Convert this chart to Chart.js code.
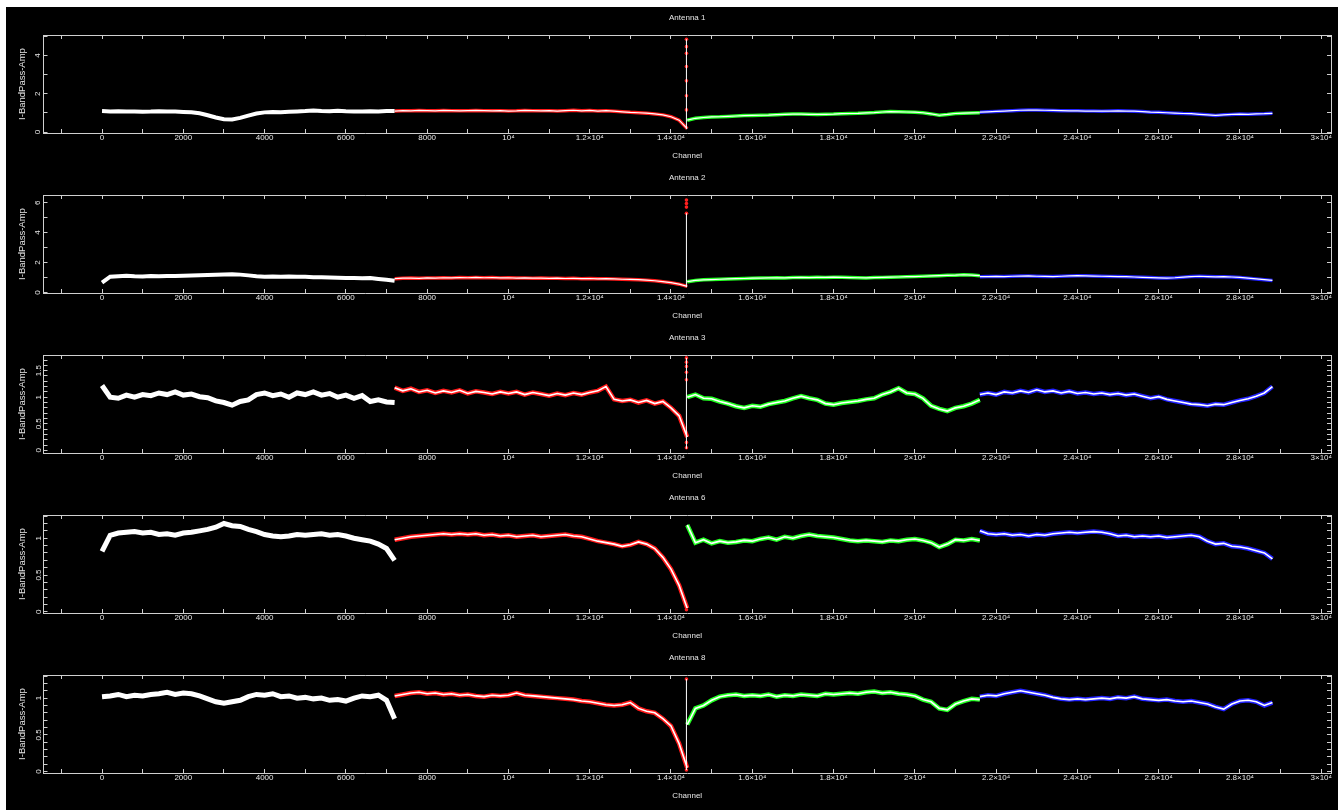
<!DOCTYPE html>
<html>
<head>
<meta charset="utf-8">
<script src="https://cdn.jsdelivr.net/npm/chart.js@4"></script>
<style>
  html, body { margin: 0; padding: 0; background: #fff; }
  #wrap { position: absolute; left: 6px; top: 7px; width: 1332px; height: 803px; background: #000; }
  #wrap canvas { position: absolute; left: 0; }
</style>
</head>
<body>
<div id="wrap"></div>
<script>
// channel offsets inside each 7200-channel spectral window
const OFFSETS = [0, 200, 400, 600, 800, 1000, 1200, 1400, 1600, 1800, 2000, 2200, 2400, 2600, 2800, 3000, 3200, 3400,
  3600, 3800, 4000, 4200, 4400, 4600, 4800, 5000, 5200, 5400, 5600, 5800, 6000, 6200, 6400, 6600, 6800, 7000, 7199];
const SPW_START = [0, 7200, 14400, 21600];
const SPW_COLORS = ['#ffffff', '#ff1a1a', '#22ff22', '#2222ff'];
const TITLES = ['Antenna 1', 'Antenna 2', 'Antenna 3', 'Antenna 6', 'Antenna 8'];

// Antenna 1
const ant1_spw0 = [1.10, 1.08, 1.09, 1.07, 1.08, 1.06, 1.07, 1.09, 1.08, 1.07, 1.05, 1.03, 0.98, 0.88, 0.76, 0.67, 0.66, 0.74,
  0.86, 0.97, 1.03, 1.05, 1.04, 1.06, 1.08, 1.10, 1.13, 1.10, 1.09, 1.11, 1.09, 1.08, 1.07, 1.09, 1.08, 1.10, 1.10];
const ant1_spw1 = [1.10, 1.12, 1.11, 1.13, 1.12, 1.11, 1.13, 1.12, 1.11, 1.12, 1.13, 1.12, 1.11, 1.12, 1.10, 1.11, 1.13, 1.12,
  1.11, 1.12, 1.10, 1.12, 1.14, 1.11, 1.13, 1.10, 1.12, 1.09, 1.06, 1.03, 1.01, 0.99, 0.95, 0.90, 0.80, 0.62, 0.18];
const ant1_spw2 = [0.62, 0.72, 0.76, 0.79, 0.80, 0.82, 0.84, 0.86, 0.87, 0.88, 0.89, 0.91, 0.93, 0.94, 0.94, 0.93, 0.92, 0.93,
  0.94, 0.96, 0.97, 0.98, 1.00, 1.02, 1.05, 1.07, 1.06, 1.05, 1.04, 1.01, 0.95, 0.88, 0.92, 0.97, 0.99, 1.00, 1.01];
const ant1_spw3 = [1.04, 1.06, 1.08, 1.10, 1.12, 1.14, 1.15, 1.15, 1.14, 1.13, 1.12, 1.11, 1.11, 1.10, 1.10, 1.09, 1.10, 1.11,
  1.10, 1.09, 1.07, 1.04, 1.03, 1.01, 0.99, 0.97, 0.96, 0.93, 0.90, 0.87, 0.90, 0.92, 0.94, 0.93, 0.95, 0.96, 0.98];

// Antenna 2
const ant2_spw0 = [0.65, 1.05, 1.08, 1.12, 1.08, 1.07, 1.09, 1.08, 1.10, 1.10, 1.12, 1.13, 1.14, 1.16, 1.18, 1.20, 1.22, 1.19,
  1.14, 1.08, 1.05, 1.06, 1.04, 1.06, 1.05, 1.04, 1.02, 1.01, 1.00, 0.98, 0.97, 0.96, 0.94, 0.96, 0.90, 0.85, 0.78];
const ant2_spw1 = [0.92, 0.95, 0.96, 0.94, 0.97, 0.96, 0.98, 0.97, 0.99, 0.98, 1.00, 0.98, 0.99, 0.97, 0.98, 0.96, 0.97, 0.95,
  0.96, 0.94, 0.95, 0.93, 0.94, 0.92, 0.93, 0.91, 0.92, 0.90, 0.88, 0.87, 0.85, 0.82, 0.78, 0.72, 0.65, 0.55, 0.40];
const ant2_spw2 = [0.72, 0.80, 0.84, 0.86, 0.88, 0.90, 0.92, 0.93, 0.95, 0.96, 0.97, 0.98, 0.97, 0.99, 1.00, 0.99, 1.01, 1.00,
  1.02, 1.01, 0.99, 0.98, 0.97, 0.99, 1.00, 1.02, 1.03, 1.05, 1.06, 1.08, 1.10, 1.12, 1.14, 1.15, 1.18, 1.16, 1.12];
const ant2_spw3 = [1.05, 1.06, 1.07, 1.06, 1.08, 1.09, 1.10, 1.08, 1.07, 1.06, 1.08, 1.10, 1.12, 1.11, 1.09, 1.08, 1.07, 1.06,
  1.05, 1.03, 1.01, 0.99, 0.97, 0.96, 0.98, 1.02, 1.06, 1.08, 1.06, 1.04, 1.05, 1.03, 1.00, 0.95, 0.90, 0.85, 0.80];

// Antenna 3
const ant3_spw0 = [1.22, 1.00, 0.98, 1.04, 1.00, 1.05, 1.03, 1.08, 1.05, 1.10, 1.04, 1.06, 1.01, 0.99, 0.93, 0.90, 0.85, 0.92,
  0.95, 1.05, 1.08, 1.03, 1.06, 1.00, 1.08, 1.05, 1.10, 1.04, 1.07, 1.00, 1.04, 0.98, 1.03, 0.92, 0.95, 0.91, 0.90];
const ant3_spw1 = [1.18, 1.12, 1.16, 1.10, 1.13, 1.08, 1.12, 1.09, 1.13, 1.07, 1.11, 1.09, 1.06, 1.10, 1.07, 1.10, 1.05, 1.09,
  1.06, 1.03, 1.07, 1.04, 1.08, 1.05, 1.09, 1.12, 1.20, 0.96, 0.93, 0.95, 0.90, 0.94, 0.88, 0.92, 0.80, 0.65, 0.25];
const ant3_spw2 = [1.00, 1.05, 0.98, 0.97, 0.92, 0.88, 0.83, 0.80, 0.84, 0.82, 0.87, 0.90, 0.93, 0.98, 1.02, 0.98, 0.95, 0.88,
  0.86, 0.89, 0.91, 0.93, 0.96, 0.98, 1.05, 1.10, 1.17, 1.08, 1.06, 0.98, 0.84, 0.78, 0.74, 0.80, 0.83, 0.88, 0.95];
const ant3_spw3 = [1.05, 1.08, 1.05, 1.10, 1.08, 1.12, 1.09, 1.14, 1.10, 1.12, 1.08, 1.11, 1.07, 1.09, 1.06, 1.08, 1.05, 1.07,
  1.04, 1.06, 1.02, 0.98, 1.01, 0.96, 0.93, 0.90, 0.87, 0.86, 0.84, 0.87, 0.86, 0.90, 0.94, 0.97, 1.02, 1.08, 1.20];

// Antenna 6
const ant6_spw0 = [0.82, 1.04, 1.07, 1.08, 1.09, 1.07, 1.08, 1.05, 1.06, 1.04, 1.07, 1.08, 1.10, 1.12, 1.15, 1.20, 1.17, 1.16,
  1.12, 1.09, 1.05, 1.03, 1.02, 1.03, 1.05, 1.04, 1.05, 1.06, 1.04, 1.05, 1.03, 1.00, 0.98, 0.96, 0.92, 0.86, 0.70];
const ant6_spw1 = [0.98, 1.00, 1.02, 1.03, 1.04, 1.05, 1.06, 1.05, 1.06, 1.05, 1.06, 1.04, 1.05, 1.03, 1.04, 1.02, 1.03, 1.04,
  1.02, 1.03, 1.04, 1.05, 1.03, 1.02, 0.99, 0.96, 0.94, 0.92, 0.89, 0.91, 0.95, 0.92, 0.86, 0.74, 0.58, 0.36, 0.05];
const ant6_spw2 = [1.18, 0.94, 0.98, 0.93, 0.96, 0.94, 0.95, 0.97, 0.96, 0.99, 1.01, 0.98, 1.02, 1.00, 1.03, 1.05, 1.03, 1.02,
  1.01, 0.99, 0.97, 0.96, 0.97, 0.96, 0.95, 0.97, 0.96, 0.98, 0.99, 0.97, 0.94, 0.88, 0.92, 0.98, 0.97, 0.99, 0.97];
const ant6_spw3 = [1.10, 1.06, 1.05, 1.06, 1.04, 1.05, 1.03, 1.05, 1.04, 1.06, 1.07, 1.08, 1.07, 1.08, 1.09, 1.08, 1.06, 1.03,
  1.04, 1.02, 1.03, 1.02, 1.03, 1.01, 1.02, 1.03, 1.04, 1.02, 0.96, 0.92, 0.93, 0.89, 0.88, 0.86, 0.83, 0.80, 0.72];

// Antenna 8
const ant8_spw0 = [1.02, 1.03, 1.05, 1.02, 1.04, 1.03, 1.05, 1.06, 1.08, 1.05, 1.07, 1.06, 1.03, 0.99, 0.95, 0.93, 0.95, 0.97,
  1.02, 1.05, 1.04, 1.06, 1.02, 1.03, 1.00, 1.01, 0.99, 1.00, 0.97, 0.98, 0.96, 1.00, 1.03, 1.02, 1.04, 0.97, 0.72];
const ant8_spw1 = [1.03, 1.05, 1.07, 1.08, 1.06, 1.07, 1.05, 1.06, 1.04, 1.05, 1.03, 1.02, 1.04, 1.03, 1.04, 1.07, 1.04, 1.03,
  1.02, 1.01, 1.00, 0.99, 0.98, 0.96, 0.95, 0.93, 0.91, 0.90, 0.91, 0.94, 0.86, 0.82, 0.80, 0.72, 0.62, 0.38, 0.05];
const ant8_spw2 = [0.64, 0.86, 0.90, 0.97, 1.02, 1.04, 1.05, 1.03, 1.04, 1.03, 1.05, 1.02, 1.04, 1.03, 1.05, 1.04, 1.03, 1.06,
  1.05, 1.06, 1.07, 1.06, 1.08, 1.09, 1.07, 1.08, 1.06, 1.05, 1.03, 0.98, 0.95, 0.86, 0.84, 0.92, 0.96, 0.99, 0.98];
const ant8_spw3 = [1.02, 1.04, 1.03, 1.06, 1.08, 1.10, 1.08, 1.06, 1.04, 1.01, 0.99, 0.98, 0.99, 0.98, 0.99, 1.00, 0.99, 1.01,
  1.00, 1.02, 0.99, 0.98, 0.97, 0.98, 0.96, 0.95, 0.96, 0.94, 0.92, 0.88, 0.85, 0.92, 0.96, 0.97, 0.95, 0.90, 0.94];

const SPECTRA = [
  [ant1_spw0, ant1_spw1, ant1_spw2, ant1_spw3],
  [ant2_spw0, ant2_spw1, ant2_spw2, ant2_spw3],
  [ant3_spw0, ant3_spw1, ant3_spw2, ant3_spw3],
  [ant6_spw0, ant6_spw1, ant6_spw2, ant6_spw3],
  [ant8_spw0, ant8_spw1, ant8_spw2, ant8_spw3]
];

// edge channel where the flagged points pile up
const SPIKE_CHAN = 14380;
const SPIKE_LINE = [[0.15, 4.86], [0.35, 5.3], [0.03, 1.74], null, [0.02, 1.26]];
const SPIKE_DOTS = [
  [4.86, 4.47, 4.12, 3.43, 2.68, 1.90, 1.16],
  [6.18, 5.95, 5.71, 5.30],
  [1.74, 1.66, 1.58, 1.47, 1.33, 0.15, 0.05],
  [0.03],
  [1.26, 0.02]
];

// axis ranges and tick spacing
const X_MIN = -1440, X_MAX = 30240;
const X_TICK_STEP = 1000, X_LABEL_STEP = 2000;
const Y_MIN = [-0.05, -0.04, -0.05, -0.015, -0.02];
const Y_MAX = [5.08, 6.52, 1.795, 1.315, 1.315];
const Y_STEP = [1, 1, 0.1, 0.1, 0.1];
const Y_MAJOR = [2, 2, 0.5, 0.5, 0.5];

const FRAME = '#cfcfcf';
const TEXT = '#e6e6e6';
const FONT = { family: 'Liberation Sans, Arial, sans-serif', size: 8, weight: 'normal' };

function tickList(min, max, step) {
  const out = [];
  for (let k = Math.ceil(min / step - 1e-9); k * step <= max + 1e-9; k++) {
    out.push({ value: Math.round(k * step * 1000) / 1000 });
  }
  return out;
}

function fmtX(v) {
  v = Math.round(v);
  if (v % X_LABEL_STEP !== 0) return '';
  if (Math.abs(v) < 10000) return String(v);
  const m = v / 10000;
  return (m === 1 ? '' : m + '\u00d7') + '10\u2074';
}

function fmtY(major) {
  return function (v) {
    const r = v / major;
    if (Math.abs(r - Math.round(r)) > 1e-6) return '';
    return String(Math.round(v * 10) / 10);
  };
}

const wrap = document.getElementById('wrap');

TITLES.forEach((title, p) => {
  const canvas = document.createElement('canvas');
  canvas.width = 1332;
  canvas.height = 160;
  canvas.style.top = (160 * p) + 'px';
  wrap.appendChild(canvas);

  // the noisier antennas get a fatter trace
  const noisy = Y_MAJOR[p] < 1;
  const wWhite = noisy ? 5 : 4;
  const wColor = noisy ? 4.5 : 3.5;
  const wCore = noisy ? 1.6 : 1.2;

  const datasets = [];
  SPECTRA[p].forEach((vals, s) => {
    const pts = vals.map((v, i) => ({ x: SPW_START[s] + OFFSETS[i], y: v }));
    if (s === 0) {
      datasets.push({ data: pts, borderColor: '#ffffff', borderWidth: wWhite, order: 1 });
    } else {
      datasets.push({ data: pts, borderColor: SPW_COLORS[s], borderWidth: wColor, order: 2 });
      datasets.push({ data: pts, borderColor: '#ffffff', borderWidth: wCore, order: 1 });
    }
  });
  if (SPIKE_LINE[p]) {
    datasets.push({
      data: SPIKE_LINE[p].map(v => ({ x: SPIKE_CHAN, y: v })),
      borderColor: '#ffffff', borderWidth: 1, order: 0
    });
  }
  datasets.push({
    data: SPIKE_DOTS[p].map(v => ({ x: SPIKE_CHAN, y: v })),
    showLine: false, pointRadius: 1.8, pointBackgroundColor: '#ff2020', pointBorderWidth: 0, order: 0
  });

  const xTicks = () => tickList(X_MIN, X_MAX, X_TICK_STEP);
  const yTicks = () => tickList(Y_MIN[p], Y_MAX[p], Y_STEP[p]);
  const grid = { drawOnChartArea: false, tickLength: -4, color: FRAME, lineWidth: 1 };
  const border = { color: FRAME, width: 1 };
  const yPad = noisy ? 3 : 7;

  new Chart(canvas, {
    type: 'line',
    data: { datasets },
    options: {
      responsive: false,
      devicePixelRatio: 1,
      animation: false,
      events: [],
      layout: { padding: { left: 0, right: 7, top: 0, bottom: 0 } },
      elements: { point: { radius: 0 }, line: { tension: 0 } },
      plugins: {
        legend: { display: false },
        tooltip: { enabled: false },
        title: {
          display: true, text: title, color: TEXT, font: FONT, fullSize: false,
          padding: { top: 6, bottom: 12.4 }
        }
      },
      scales: {
        x: {
          type: 'linear', position: 'bottom', min: X_MIN, max: X_MAX, bounds: 'data',
          afterBuildTicks(s) { s.ticks = xTicks(); },
          ticks: { color: TEXT, font: FONT, padding: 4, autoSkip: false, maxRotation: 0, minRotation: 0, callback: fmtX },
          grid, border,
          title: { display: true, text: 'Channel', color: TEXT, font: FONT, padding: { top: 0, bottom: 6 } },
          afterFit(s) { s.height = 34; }
        },
        x2: {
          type: 'linear', axis: 'x', position: 'top', min: X_MIN, max: X_MAX, bounds: 'data',
          afterBuildTicks(s) { s.ticks = xTicks(); },
          ticks: { display: false },
          grid, border,
          afterFit(s) { s.height = 0; }
        },
        y: {
          type: 'linear', position: 'left', min: Y_MIN[p], max: Y_MAX[p], bounds: 'data',
          afterBuildTicks(s) { s.ticks = yTicks(); },
          ticks: {
            color: TEXT, font: FONT, padding: yPad, autoSkip: false, minRotation: 90, maxRotation: 90,
            crossAlign: 'center', callback: fmtY(Y_MAJOR[p])
          },
          grid, border,
          title: {
            display: true, text: 'I-BandPass-Amp', color: TEXT,
            font: { family: FONT.family, size: 9.5, weight: 'normal' }, padding: { top: 11, bottom: 0 }
          },
          afterFit(s) { s.width = 37.5; }
        },
        y2: {
          type: 'linear', axis: 'y', position: 'right', min: Y_MIN[p], max: Y_MAX[p], bounds: 'data',
          afterBuildTicks(s) { s.ticks = yTicks(); },
          ticks: { display: false },
          grid, border,
          afterFit(s) { s.width = 0; }
        }
      }
    }
  });
});
</script>
</body>
</html>
